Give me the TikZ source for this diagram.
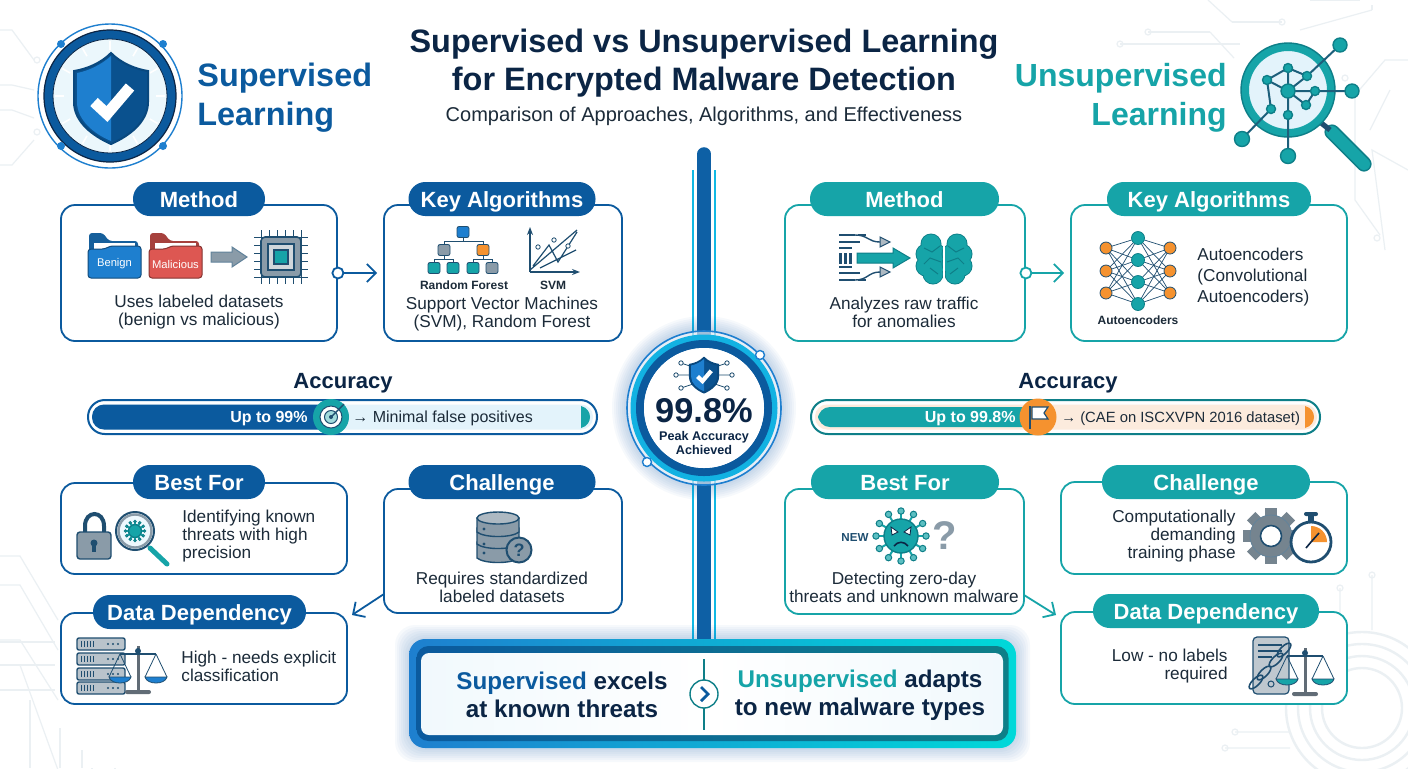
\documentclass[tikz,border=0pt]{standalone}
\usepackage{fontspec}
\setmainfont{Liberation Sans}
\usepackage{xcolor}
\usetikzlibrary{positioning,arrows.meta}

\definecolor{supblue}{HTML}{0B5A9E}
\definecolor{supbright}{HTML}{1E7FCF}
\definecolor{unsteal}{HTML}{16A4A8}
\definecolor{unsdark}{HTML}{0E7F88}
\definecolor{hiorange}{HTML}{F5922F}
\definecolor{folderred}{HTML}{DD5752}
\definecolor{inkdark}{HTML}{0B2545}
\definecolor{inkbody}{HTML}{1C2B39}
\definecolor{icongray}{HTML}{8A9BA8}
\definecolor{icondark}{HTML}{1F4E70}
\definecolor{tracegray}{HTML}{EBF0F3}
\definecolor{palesup}{HTML}{E3F3FB}
\definecolor{paleuns}{HTML}{FCEBDD}

\tikzset{
  cardsup/.style={draw=supblue, line width=0.9pt, fill=white, rounded corners=7pt, inner sep=0pt},
  carduns/.style={draw=unsteal, line width=0.9pt, fill=white, rounded corners=7pt, inner sep=0pt},
  boxsize/.style 2 args={minimum width=#1pt, minimum height=#2pt},
  pillsup/.style={fill=supblue, text=white, rounded corners=8.4pt, minimum height=17pt, inner sep=0pt, text height=8pt, text depth=0pt, font=\bfseries\fontsize{11}{13}\selectfont},
  pilluns/.style={pillsup, fill=unsteal},
  bodytxt/.style={inner sep=0pt, text=inkbody, font=\fontsize{8.6}{9}\selectfont, align=center},
  bodyleft/.style={bodytxt, anchor=west, align=left},
  bodyright/.style={bodytxt, anchor=east, align=right},
  smalltxt/.style={inner sep=0pt, text=inkbody, font=\bfseries\fontsize{6}{7}\selectfont},
  acctxt/.style={inner sep=0pt, text=inkdark, font=\bfseries\fontsize{11}{13}\selectfont},
  barval/.style={inner sep=0pt, text=white, anchor=east, text height=6pt, text depth=0.6pt, font=\bfseries\fontsize{8}{10}\selectfont},
  barnote/.style={inner sep=0pt, text=inkbody, anchor=west, text height=6pt, text depth=0.6pt, font=\fontsize{7.4}{10}\selectfont},
  portdot/.style={circle, draw=#1, fill=white, line width=0.9pt, minimum size=5.5pt, inner sep=0pt},
  link/.style={draw=#1, line width=0.9pt, -{Straight Barb[length=4.5pt,width=9pt]}},
  bgtrace/.style={draw=tracegray, line width=0.6pt},
  treeline/.style={draw=icondark, line width=0.5pt},
  netline/.style={draw=icondark, line width=0.35pt},
}

% icons, all drawn round (0,0)
\newcommand{\iconShield}[3]{%
  \begin{scope}[shift={(#1,#2)},scale=#3]
    \path[fill=supblue!90!black, draw=supblue!80!black, line width=1pt]
      (0,-45) .. controls (-10,-35) and (-24,-29) .. (-37,-27) -- (-37,4)
      .. controls (-37,24) and (-18,38) .. (0,46) .. controls (18,38) and (37,24) .. (37,4)
      -- (37,-27) .. controls (24,-29) and (10,-35) .. (0,-45) -- cycle;
    \fill[supbright] (0,-42) .. controls (-10,-33) and (-23,-27) .. (-34,-25) -- (-34,4)
      .. controls (-34,22) and (-17,36) .. (0,43) -- cycle;
    \draw[white, line width=5.5*#3 pt] (-17,4) -- (-4,16) -- (19,-11);
  \end{scope}}
\newcommand{\iconFolder}[3]{%
  \begin{scope}[shift={(#1,233)}]
    \fill[#2!75!black, rounded corners=1.5pt] (1,0) -- (15,0) -- (21,8) -- (50,8) -- (50,30) -- (1,30) -- cycle;
    \fill[white] (6,10) rectangle (47,22);
    \path[fill=#2, draw=#2!60!black, line width=0.5pt, rounded corners=1.5pt] (0,16) -- (17,16) -- (22,13) -- (53,13) -- (53,45) -- (0,45) -- cycle;
    \node[inner sep=0pt, text=white, font=\fontsize{5.6}{7}\selectfont] (#3lbl) at (26.5,31) {#3};
  \end{scope}}
\newcommand{\iconVirus}[4]{%
  \begin{scope}[shift={(#1,#2)},scale=#3]
    \foreach \a in {0,30,...,330} {
      \draw[#4, line width=1pt] (\a:16) -- (\a:25);
      \path[fill=#4!70!white, draw=unsdark, line width=0.5pt] (\a:25) circle (3.2);
    }
    \path[fill=#4, draw=unsdark, line width=0.7pt] (0,0) circle (17);
  \end{scope}}
\newcommand{\iconScales}[3]{%
  \begin{scope}[shift={(#1,#2)}]
    \draw[icongray!70!black, line width=1.5pt] (0,-2) -- (0,42);
    \draw[icondark, line width=1pt] (-18,6) -- (18,6);
    \fill[icongray!70!black, rounded corners=1pt] (-13,42) rectangle (13,46);
    \fill[icondark] (0,3) circle (3);
    \foreach \s in {-1,1} {
      \draw[icondark, line width=0.4pt] (\s*18,6) -- (\s*29,29) (\s*18,6) -- (\s*7,29);
      \path[fill=#3, draw=icondark, line width=0.4pt] (\s*29,29) .. controls (\s*27,37) and (\s*9,37) .. (\s*7,29) -- cycle;
    }
  \end{scope}}

\begin{document}
\begin{tikzpicture}[x=0.5pt,y=-0.5pt]
\useasboundingbox (0,0) rectangle (1408,768);
\fill[white] (0,0) rectangle (1408,768);

% faint circuit background
\foreach \ya/\yb in {60/30,90/85,118/110,140/165} \draw[bgtrace] (0,\yb) -- (12,\yb) -- (34,\ya);
\foreach \p in {(37,60),(37,132)} \draw[bgtrace] \p circle (3);
\foreach \ya/\yb in {556/620,585/650,640/700,665/770} \draw[bgtrace] (0,\ya) -- (20,\ya) -- (58,\yb);
\foreach \xa/\xb in {30/80,60/108,82/130,92/160,115/158} \draw[bgtrace] (\xa,768) -- (\xa,\xb*1+620);
\draw[bgtrace] (0,642) -- (55,642) (0,665) -- (55,665) (0,690) -- (55,690);
\foreach \xa/\ya/\xb/\yb in {1208/0/1232/22,1232/22/1282/22,1148/32/1210/32,1210/32/1234/58,1120/44/1240/44,1310/0/1360/0,1300/30/1372/10,1372/10/1372/5} \draw[bgtrace] (\xa,\ya) -- (\xb,\yb);
\draw[bgtrace] (1408,60) -- (1385,60) -- (1355,95) -- (1355,200) -- (1380,235) (1390,90) -- (1370,130) (1408,170) -- (1372,150) -- (1385,250);
\foreach \p in {(1282,22),(1148,32),(1120,44),(1345,78),(1377,238)} \draw[bgtrace] \p circle (3);
\foreach \r in {40,52,64,76} \draw[bgtrace, line width=1.2pt] (1362,708) circle (\r);
\draw[bgtrace] (1340,588) -- (1340,650) (1310,600) -- (1330,640) (1372,575) -- (1372,630) (1235,732) -- (1290,732) (1225,748) -- (1290,748);
\foreach \p in {(1340,588),(1310,600),(1372,575),(1235,732),(1225,748)} \draw[bgtrace] \p circle (3);

% central spine
\coordinate (spinetop) at (704,154);
\coordinate (spineend) at (704,645);
\draw[supbright!55!cyan, line width=12pt] (704,170) -- (spineend);
\draw[white, line width=10.4pt] (704,160) -- (spineend);
\draw[supblue!85!supbright, line width=6.8pt, line cap=round] (spinetop) -- (spineend);

% header left
\draw[supbright, line width=0.7pt] (110,96) circle (72);
\fill[supblue] (110,96) circle (66);
\draw[inkdark, line width=0.6pt] (110,96) circle (66);
\path[fill=palesup!70!white, draw=inkdark, line width=0.4pt] (110,96) circle (57);
\foreach \a in {0,30,...,330} \draw[white, line width=0.8pt] (\a:46) ++(110,96) -- ++(\a:9);
\foreach \p in {(61,44),(163,44),(61,146),(163,146)} \fill[supbright] \p circle (4);
\iconShield{111}{98}{1}
\node[inner sep=0pt, anchor=west, align=left, text=supblue, font=\bfseries\fontsize{16.2}{19.5}\selectfont] (headSup) at (197,98) {Supervised\\Learning};

% title
\node[inner sep=0pt, align=center, text=inkdark, font=\bfseries\fontsize{16.2}{19}\selectfont] (titleMain) at (704,63) {Supervised vs Unsupervised Learning\\for Encrypted Malware Detection};
\node[inner sep=0pt, text=inkbody, font=\fontsize{10}{11}\selectfont] (titleSub) at (704,116) {Comparison of Approaches, Algorithms, and Effectiveness};

% header right
\node[inner sep=0pt, anchor=east, align=right, text=unsteal, font=\bfseries\fontsize{16}{19.5}\selectfont] (headUns) at (1227,98) {Unsupervised\\Learning};
\draw[unsdark, line width=7.6pt, line cap=round] (1332,132) -- (1364,164);
\draw[unsteal, line width=6pt, line cap=round] (1332,132) -- (1364,164);
\draw[icondark, line width=2.6pt] (1320,122) -- (1330,130);
\path[fill=palesup, draw=unsteal, line width=4pt] (1288,90) circle (43);
\draw[unsdark, line width=0.7pt] (1288,90) circle (47);
\foreach \a/\b in {1288/68,1307/76,1267/80,1288/91,1315/91,1306/105,1271/109,1288/115} \coordinate (n\a\b) at (\a,\b);
\coordinate (outA) at (1340,45); \coordinate (outB) at (1352,91); \coordinate (outC) at (1242,139); \coordinate (outD) at (1288,156);
\draw[icondark!80!unsteal, line width=1pt] (n128868) -- (n130776) -- (outA) (n128868) -- (n126780) -- (n128891) -- (n128868)
  (n130776) -- (n128891) -- (n131591) -- (outB) (n128891) -- (n1306105) -- (n131591) (n126780) -- (n1271109) -- (outC)
  (n128891) -- (n1288115) -- (outD);
\foreach \p/\r in {n128868/4.5,n130776/4.5,n126780/4.5,n128891/7,n131591/4.5,n1306105/4.5,n1271109/4.5,n1288115/4.5,outA/7,outB/7,outC/7.5,outD/7.5}
  \path[fill=unsteal, draw=unsdark, line width=0.7pt] (\p) circle (\r);

% supervised cards
\node[cardsup, boxsize={138}{68}] (methodSup) at (199,273) {};
\node[cardsup, boxsize={119}{68}] (keySup) at (503,273) {};
\node[cardsup, boxsize={143}{45.5}] (bestSup) at (204,528.5) {};
\node[cardsup, boxsize={119}{62}] (chalSup) at (503,551) {};
\node[cardsup, boxsize={143}{45.5}] (dataSup) at (204,658.5) {};
\node[pillsup, minimum width=66pt] (methodSupHd) at (199,199) {Method};
\node[pillsup, minimum width=93.5pt] (keySupHd) at (502,199) {Key Algorithms};
\node[pillsup, minimum width=66pt] (bestSupHd) at (199,482) {Best For};
\node[pillsup, minimum width=93.5pt] (chalSupHd) at (502,482) {Challenge};
\node[pillsup, minimum width=106.5pt] (dataSupHd) at (199.5,612) {Data Dependency};

% method icons
\iconFolder{88}{supbright}{Benign}
\iconFolder{149}{folderred}{Malicious}
\path[fill=icongray, draw=icondark!70, line width=0.5pt] (211,252) -- (232,252) -- (232,247) -- (247,257) -- (232,267) -- (232,262) -- (211,262) -- cycle;
\foreach \o in {-20,-12,...,20} {
  \draw[icondark, line width=0.5pt] (281+\o,230) -- (281+\o,284);
  \draw[icondark, line width=0.5pt] (254,257+\o) -- (308,257+\o);
}
\path[fill=icongray, draw=icondark, line width=0.8pt, rounded corners=2pt] (261,237) rectangle (301,277);
\path[fill=icongray!40, draw=icondark, line width=0.6pt] (268,244) rectangle (294,270);
\path[fill=unsteal, draw=icondark, line width=0.6pt] (274,250) rectangle (288,264);
\node[bodytxt] (methodSupTxt) at (199,312) {Uses labeled datasets\\(benign vs malicious)};

% forest and svm
\coordinate (rfRoot) at (463,232); \coordinate (rfL) at (444,250); \coordinate (rfR) at (483,250);
\draw[treeline] (rfRoot) -- (463,241) (444,250) |- (463,241) -| (483,250)
  (434,268) |- (444,259) -| (453,268) (444,250) -- (444,259) (473,268) |- (483,259) -| (492,268) (483,250) -- (483,259);
\foreach \x/\y/\c in {463/232/supbright,444/250/icongray,483/250/hiorange,434/268/unsteal,453/268/unsteal,473/268/unsteal,492/268/icongray}
  \path[fill=\c, draw=icondark, line width=0.4pt, rounded corners=1pt] (\x-6,\y-5.5) rectangle (\x+6,\y+5.5);
\node[smalltxt] (rfLbl) at (464,285) {Random Forest};
\node[smalltxt] (svmLbl) at (553,285) {SVM};
\draw[icondark, line width=0.7pt, -{Stealth[length=4pt]}] (530,272) -- (530,227);
\draw[icondark, line width=0.7pt, -{Stealth[length=4pt]}] (530,272) -- (580,272);
\draw[icondark, line width=0.6pt] (530,270) -- (577,230) (533,266) -- (549,245) -- (558,262) -- (577,232) (540,268) -- (576,250);
\foreach \p in {(538,247),(554,240),(568,246)} \path[draw=icondark, fill=white, line width=0.4pt] \p circle (2.2);
\node[bodytxt] (keySupTxt) at (502,314) {Support Vector Machines\\(SVM), Random Forest};

% accuracy bar, supervised
\node[acctxt] (accSupLbl) at (343,383) {Accuracy};
\node[draw=supblue, line width=1pt, fill=white, rounded corners=8.4pt, boxsize={254.5}{17}, inner sep=0pt] (accSup) at (342.5,417) {};
\fill[palesup, rounded corners=6pt] (92,404.5) rectangle (593,429.5);
\fill[supblue, rounded corners=6pt] (92,404.5) rectangle (331,429.5);
\fill[unsteal] (581,406) .. controls (593,409) and (593,425) .. (581,428) -- cycle;
\node[barval] (accSupVal) at (308,417) {Up to 99\%};
\node[barnote, font=\fontsize{8}{10}\selectfont] (accSupNote) at (352,417) {→ Minimal false positives};
\fill[unsteal] (331,417) circle (18);
\path[fill=white, draw=icondark, line width=0.5pt] (331,417) circle (11);
\path[fill=unsteal!40, draw=icondark, line width=0.5pt] (331,417) circle (6.5);
\fill[icondark] (331,417) circle (2);
\draw[icondark, line width=0.7pt] (331,417) -- (344,404);

% best for, supervised
\path[draw=icondark, line width=2pt] (85,533) -- (85,526) .. controls (85,510) and (104,510) .. (104,526) -- (104,533);
\path[fill=icongray, draw=icondark, line width=0.7pt, rounded corners=1.5pt] (77,532) rectangle (111,559);
\fill[icondark] (94,543) circle (3.5);
\draw[icondark, line width=1.6pt] (94,543) -- (94,552);
\draw[unsteal, line width=2.5pt, line cap=round] (150,548) -- (167,564);
\path[fill=palesup!60!white, draw=icondark, line width=1pt] (135,531) circle (19);
\draw[icongray, line width=1.2pt] (135,531) circle (16.5);
\iconVirus{135}{531}{0.38}{unsteal}
\node[bodyleft] (bestSupTxt) at (182,536) {Identifying known\\threats with high\\precision};

% challenge, supervised
\foreach \y in {542,528} \path[fill=icongray, draw=icondark, line width=0.7pt] (477,\y) -- (477,\y+16) .. controls (484,\y+22) and (512,\y+22) .. (519,\y+16) -- (519,\y) -- cycle;
\path[fill=icongray, draw=icondark, line width=0.7pt] (477,518) -- (477,532) .. controls (484,538) and (512,538) .. (519,532) -- (519,518) -- cycle;
\path[fill=icongray!70, draw=icondark, line width=0.7pt] (498,518) ellipse (21 and 6);
\foreach \y in {529,544,553} \fill[icondark] (484,\y) circle (1.6);
\path[fill=icongray, draw=icondark, line width=1pt] (519,550) circle (12.5);
\node[inner sep=0pt, text=icondark, font=\bfseries\fontsize{9}{10}\selectfont] (chalSupQ) at (519,550) {?};
\node[bodytxt] (chalSupTxt) at (502,587) {Requires standardized\\labeled datasets};
\coordinate (chalOut) at (384,594);
\coordinate (dataIn) at (352,615);

% data dependency, supervised
\foreach \y in {638,653,668,682} {
  \path[fill=icongray!60, draw=icondark, line width=0.7pt, rounded corners=1pt] (77,\y) rectangle (125,\y+12);
  \foreach \x in {81,84,87,90,93} \draw[icondark, line width=0.5pt] (\x,\y+3) -- (\x,\y+9);
  \foreach \x in {108,113,118} \fill[icondark] (\x,\y+6) circle (1.2);
}
\iconScales{138}{648}{supbright}
\node[bodyleft] (dataSupTxt) at (181,666) {High - needs explicit\\classification};

% unsupervised cards
\node[carduns, boxsize={120}{68}] (methodUns) at (905,273) {};
\node[carduns, boxsize={138}{68}] (keyUns) at (1209,273) {};
\node[carduns, boxsize={119.5}{62.5}] (bestUns) at (904.5,551.5) {};
\node[carduns, boxsize={143}{46}] (chalUns) at (1204,528) {};
\node[carduns, boxsize={143}{46}] (dataUns) at (1204,658) {};
\node[pilluns, minimum width=94.5pt] (methodUnsHd) at (904.5,199) {Method};
\node[pilluns, minimum width=102pt] (keyUnsHd) at (1209,199) {Key Algorithms};
\node[pilluns, minimum width=94pt] (bestUnsHd) at (905,482) {Best For};
\node[pilluns, minimum width=104pt] (chalUnsHd) at (1206,482) {Challenge};
\node[pilluns, minimum width=113pt] (dataUnsHd) at (1206,611) {Data Dependency};

% method icons, unsupervised
\foreach \x/\y/\z in {839/235/855,858/235/866,839/242/860,839/248/852} \draw[icondark, line width=0.7pt] (\x,\y) -- (\z,\y);
\foreach \x/\y/\z in {839/267/852,839/273/860,839/280/855,858/280/866} \draw[icondark, line width=0.7pt] (\x,\y) -- (\z,\y);
\draw[icondark, line width=0.7pt] (855,235) .. controls (868,235) and (868,242) .. (880,242);
\draw[icondark, line width=0.7pt] (855,280) .. controls (868,280) and (868,272) .. (880,272);
\foreach \y in {242,272} \path[fill=icongray!70, draw=icondark, line width=0.5pt] (880,\y-5) -- (890,\y) -- (880,\y+5) -- cycle;
\foreach \x in {839,844,849} \fill[icondark] (\x,252.5) rectangle (\x+3,263.5);
\path[fill=unsteal, draw=unsdark, line width=0.5pt] (857,253) -- (893,253) -- (893,248) -- (910,258) -- (893,268) -- (893,263) -- (857,263) -- cycle;
\foreach \s in {-1,1} {
  \foreach \cx/\cy in {-13/-14,-18/-4,-18/8,-11/16,-8/-4,-8/6} \fill[unsdark] (944+\s*\cx*-1,258+\cy) circle (10.5);
  \foreach \cx/\cy in {-13/-14,-18/-4,-18/8,-11/16,-8/-4,-8/6} \fill[unsteal] (944+\s*\cx*-1,258+\cy) circle (9.6);
  \draw[unsdark, line width=0.5pt] (944+\s*4,246) -- (944+\s*12,252) -- (944+\s*20,248) (944+\s*3,262) -- (944+\s*14,258) -- (944+\s*20,264) (944+\s*6,274) -- (944+\s*14,268);
}
\draw[white, line width=1.2pt] (944,236) -- (944,282);
\node[bodytxt] (methodUnsTxt) at (904,312) {Analyzes raw traffic\\for anomalies};

% autoencoder net
\foreach \ya in {248,271,293} \foreach \yb in {238,260,282,304} {
  \draw[netline] (1106,\ya) -- (1138,\yb);
  \draw[netline] (1170,\ya) -- (1138,\yb);
}
\foreach \y in {238,260,282,304} \path[fill=unsteal, draw=unsdark, line width=0.4pt] (1138,\y) circle (6.5);
\foreach \x in {1106,1170} \foreach \y in {248,271,293} \path[fill=hiorange, draw=icondark, line width=0.4pt] (\x,\y) circle (6);
\node[smalltxt] (aeLbl) at (1138,320) {Autoencoders};
\node[bodyleft, font=\fontsize{8.6}{10.3}\selectfont] (keyUnsTxt) at (1197,277) {Autoencoders\\(Convolutional\\Autoencoders)};

% accuracy bar, unsupervised
\node[acctxt] (accUnsLbl) at (1068,383) {Accuracy};
\node[draw=unsdark, line width=1pt, fill=white, rounded corners=8.4pt, boxsize={254.5}{17}, inner sep=0pt] (accUns) at (1065.5,417) {};
\fill[paleuns, rounded corners=6pt] (815,404.5) rectangle (1317,429.5);
\fill[unsteal, rounded corners=6pt] (818,407) rectangle (1038,427);
\fill[hiorange] (1305,406) .. controls (1317,409) and (1317,425) .. (1305,428) -- cycle;
\node[barval] (accUnsVal) at (1016,417) {Up to 99.8\%};
\node[barnote] (accUnsNote) at (1061,417) {→ (CAE on ISCXVPN 2016 dataset)};
\fill[hiorange] (1038,417) circle (18.5);
\draw[icondark, line width=1pt] (1030,406) -- (1030,429);
\path[fill=white, draw=icondark, line width=0.6pt] (1032,407) -- (1048,407) -- (1044,413) -- (1048,419) -- (1032,419) -- cycle;

% best for, unsupervised
\node[inner sep=0pt, text=icondark, font=\bfseries\fontsize{5.8}{7}\selectfont] (newLbl) at (855,537) {NEW};
\iconVirus{901}{536}{1}{unsteal}
\foreach \s in {-1,1} {
  \path[fill=white, draw=inkdark, line width=0.4pt] (901+\s*3,532) -- (901+\s*10,527) -- (901+\s*9,535) -- cycle;
}
\draw[inkdark, line width=0.8pt] (894,546) .. controls (898,541) and (904,541) .. (908,546);
\node[inner sep=0pt, text=icongray, font=\bfseries\fontsize{20}{22}\selectfont] (newQ) at (945,536) {?};
\node[bodytxt] (bestUnsTxt) at (904,587) {Detecting zero-day\\threats and unknown malware};
\coordinate (bestOut) at (1024,595);
\coordinate (dataUnsIn) at (1056,615);

% challenge, unsupervised
\node[bodyright] (chalUnsTxt) at (1236,536) {Computationally\\demanding\\training phase};
\begin{scope}[shift={(1271,536)}]
  \foreach \a in {0,45,...,315} \fill[icongray!85!black, rotate=\a] (-6,-28) rectangle (6,-18);
  \path[fill=icongray!85!black, draw=icondark!70, line width=0.4pt] (0,0) circle (21);
  \path[fill=white, draw=icondark, line width=0.8pt] (0,0) circle (10.5);
\end{scope}
\begin{scope}[shift={(1311,542)}]
  \fill[icondark] (-3,-27) rectangle (3,-20);
  \fill[icondark, rounded corners=1pt] (-7,-30) rectangle (7,-26);
  \path[fill=white, draw=icondark, line width=1.4pt] (0,0) circle (20);
  \fill[hiorange] (0,0) -- (-90:16) arc[start angle=-90, end angle=0, radius=16] -- cycle;
  \draw[inkdark, line width=0.8pt] (-5,6) -- (0,0) -- (8,-9);
\end{scope}

% data dependency, unsupervised
\node[bodyright] (dataUnsTxt) at (1228,666) {Low - no labels\\required};
\path[fill=icongray!55, draw=icondark, line width=0.6pt, rounded corners=2pt] (1253,637) rectangle (1289,694);
\foreach \y/\z in {645/1282,651/1282,657/1272} \draw[icondark, line width=0.7pt] (1258,\y) -- (\z,\y);
\draw[icondark, line width=0.5pt] (1271,684) circle (3);
\foreach \x/\y in {1284/650,1276/660,1256/682,1264/673} \draw[icondark, line width=0.8pt, rotate around={45:(\x,\y)}] (\x,\y) ellipse (9 and 3.6);
\iconScales{1305}{650}{unsteal}

% links between cards
\node[portdot=supblue] (portSup) at (methodSup.east) {};
\draw[link=supblue, shorten >=3pt] (portSup) -- (keySup.west);
\node[portdot=unsteal] (portUns) at (methodUns.east) {};
\draw[link=unsteal, shorten >=3pt] (portUns) -- (keyUns.west);
\draw[link=supblue] (chalOut) -- (dataIn);
\draw[link=unsteal] (bestOut) -- (dataUnsIn);

% peak accuracy badge
\foreach \r in {78,80,...,92} \fill[cyan!40!blue, opacity=0.035] (704,408) circle (\r);
\draw[supbright, line width=0.8pt, fill=white, fill opacity=0.6] (704,408) circle (77);
\draw[supbright!60!cyan, line width=3pt] (704,408) circle (70.5);
\draw[supblue, line width=4pt] (704,408) circle (64);
\fill[white] (704,408) circle (60);
\foreach \p in {(760,355),(647,462)} \path[fill=white, draw=supbright, line width=0.7pt] \p circle (4.5);
\foreach \s in {-1,1} {
  \draw[icondark, line width=0.4pt] (704+\s*8,368) -- (704+\s*23,363) (704+\s*10,375) -- (704+\s*28,375) (704+\s*8,383) -- (704+\s*23,388);
  \foreach \y/\d in {363/23,375/28,388/23} \path[fill=white, draw=icondark, line width=0.4pt] (704+\s*\d,\y) circle (2.2);
}
\iconShield{704}{375}{0.38}
\node[inner sep=0pt, text=inkdark, font=\bfseries\fontsize{17.2}{21}\selectfont] (peakVal) at (704,411) {99.8\%};
\node[inner sep=0pt, align=center, text=inkdark, font=\bfseries\fontsize{6.3}{7}\selectfont] (peakTxt) at (704,443) {Peak Accuracy\\Achieved};

% bottom summary box
\foreach \g in {2,4,...,14} \fill[cyan!40!blue, opacity=0.035, rounded corners=10pt] (409-\g,639-\g) rectangle (1016+\g,748+\g);
\node[left color=supbright, right color=cyan!70!teal, rounded corners=8pt, boxsize={303.5}{54.5}, inner sep=0pt] (summaryOut) at (712.5,693.5) {};
\node[left color=supblue, right color=unsdark, rounded corners=6pt, boxsize={296}{47.5}, inner sep=0pt] (summaryMid) at (712.5,693.5) {};
\node[left color=palesup!50!white, right color=palesup!50!white, middle color=white, rounded corners=4pt, boxsize={291}{41}, inner sep=0pt] (summary) at (712,694) {};
\node[inner sep=0pt, align=center, text=inkdark, font=\bfseries\fontsize{12.1}{14}\selectfont] (sumSup) at (562,695) {\textcolor{supblue}{Supervised} excels\\at known threats};
\node[inner sep=0pt, align=center, text=inkdark, font=\bfseries\fontsize{12.1}{14}\selectfont] (sumUns) at (860,695) {\textcolor{unsteal}{Unsupervised} adapts\\to new malware types};
\coordinate (divTop) at (704,659);
\coordinate (divEnd) at (704,730);
\draw[unsdark, line width=0.6pt] (divTop) -- (divEnd);
\path[fill=white, draw=unsdark, line width=0.7pt] (704,694) circle (14);
\draw[supblue, line width=1.4pt] (701,687) -- (708,694) -- (701,701);
\end{tikzpicture}
\end{document}
